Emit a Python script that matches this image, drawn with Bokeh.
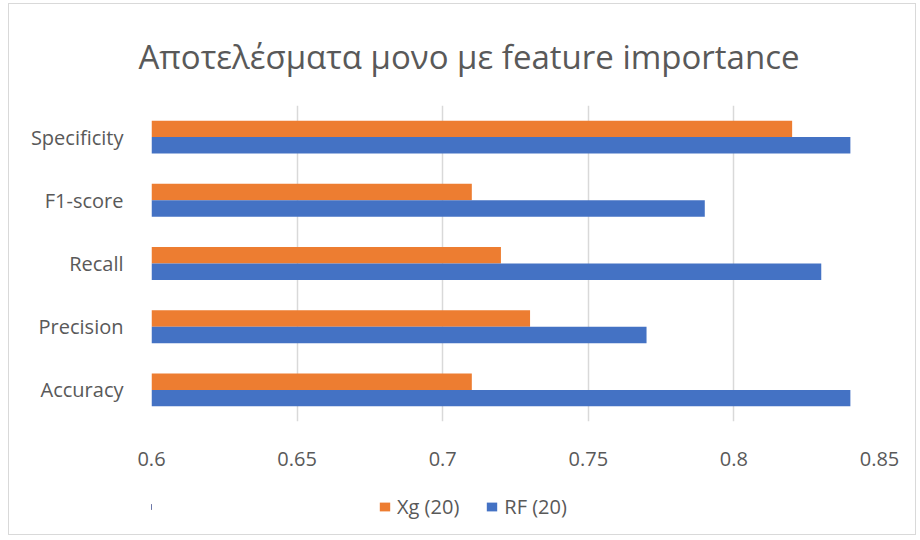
from bokeh.plotting import figure
from bokeh.layouts import column
from bokeh.models import ColumnDataSource, FactorRange, FixedTicker, Legend, LegendItem, Range1d
from bokeh.transform import dodge
from bokeh.embed import file_html
from bokeh.resources import INLINE

title_text = "Αποτελέσματα  μονο με feature importance"
categories = ["Accuracy", "Precision", "Recall", "F1-score", "Specificity"]
xg_values = [0.71, 0.73, 0.72, 0.71, 0.82]
rf_values = [0.84, 0.77, 0.83, 0.79, 0.84]
series_names = ["Xg (20)", "RF (20)"]
x_tick_values = [0.6, 0.65, 0.7, 0.75, 0.8, 0.85]
x_tick_labels = ["0.6", "0.65", "0.7", "0.75", "0.8", "0.85"]

ORANGE = "#ED7D31"
BLUE = "#4472C4"
TEXT = "#595959"
GRID = "#D9D9D9"
FONT = "Open Sans"

source = ColumnDataSource(data=dict(cat=categories, xg=xg_values, rf=rf_values))

p = figure(
    y_range=FactorRange(factors=categories, range_padding=0),
    x_range=(0.6, 0.85),
    frame_width=728, frame_height=316,
    min_border_left=142, min_border_right=36,
    min_border_top=60, min_border_bottom=58,
    output_backend="svg", toolbar_location=None,
    background_fill_color="white", border_fill_color="white",
)
p.outline_line_color = None

r_xg = p.hbar(y=dodge("cat", 0.13, range=p.y_range), left=0.6, right="xg", height=0.26,
              source=source, fill_color=ORANGE, line_color=None)
r_rf = p.hbar(y=dodge("cat", -0.13, range=p.y_range), left=0.6, right="rf", height=0.26,
              source=source, fill_color=BLUE, line_color=None)

# title
p.title.text = title_text
p.title.align = "left"
p.title.text_font = FONT
p.title.text_font_size = "33px"
p.title.text_font_style = "normal"
p.title.text_color = TEXT
p.title.offset = -13
p.title.standoff = 54

# x axis
p.xaxis.ticker = FixedTicker(ticks=x_tick_values)
p.xaxis.major_label_overrides = {v: l for v, l in zip(x_tick_values, x_tick_labels)}
p.xaxis.axis_line_color = None
p.xaxis.major_tick_line_color = None
p.xaxis.minor_tick_line_color = None
p.xaxis.major_label_standoff = 24
p.xaxis.major_label_text_font = FONT
p.xaxis.major_label_text_font_size = "20px"
p.xaxis.major_label_text_color = TEXT

# y axis
p.yaxis.axis_line_color = None
p.yaxis.major_tick_line_color = None
p.yaxis.minor_tick_line_color = None
p.yaxis.major_label_standoff = 22
p.yaxis.major_label_text_font = FONT
p.yaxis.major_label_text_font_size = "20px"
p.yaxis.major_label_text_color = TEXT

p.xgrid.ticker = FixedTicker(ticks=x_tick_values)
p.xgrid.grid_line_color = GRID
p.xgrid.grid_line_width = 1.5
p.ygrid.grid_line_color = None

# legend strip below the chart (its own renderers lie outside its visible range)
lf = figure(
    width=906, height=55, min_border=0,
    x_range=Range1d(10, 11), y_range=Range1d(0, 1),
    x_axis_type=None, y_axis_type=None,
    output_backend="svg", toolbar_location=None,
    background_fill_color="white", border_fill_color="white",
)
lf.title = None
lf.outline_line_color = None
l_xg = lf.hbar(y=0.5, left=0, right="xg", height=0.1, source=source,
               fill_color=ORANGE, line_color=None)
l_rf = lf.hbar(y=0.5, left=0, right="rf", height=0.1, source=source,
               fill_color=BLUE, line_color=None)

legend = Legend(
    items=[LegendItem(label=series_names[0], renderers=[l_xg], index=0),
           LegendItem(label=series_names[1], renderers=[l_rf], index=0)],
    orientation="horizontal",
    location=(227, 14),
    border_line_color=None,
    background_fill_alpha=0,
    glyph_width=13, glyph_height=11,
    label_text_font=FONT, label_text_font_size="20px", label_text_color=TEXT,
    spacing=26, padding=4, label_standoff=6, margin=0,
)
lf.add_layout(legend, "center")

layout = column(p, lf, spacing=0,
                styles={"border": "1px solid #d9d9d9", "margin-left": "8px", "margin-top": "3px"})

open("out.html", "w").write(file_html(layout, INLINE))
